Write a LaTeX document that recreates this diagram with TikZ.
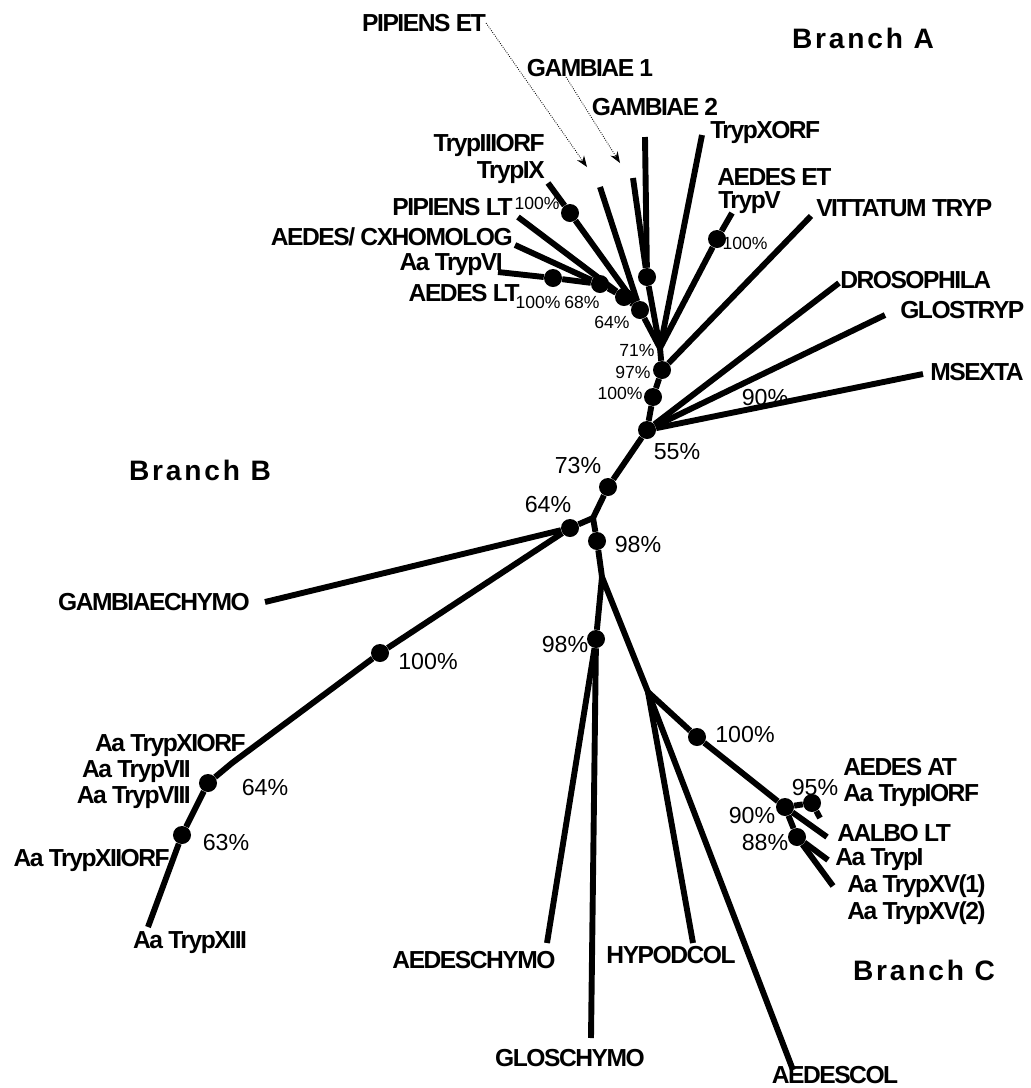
\documentclass[tikz,border=0pt]{standalone}
\usepackage{fontspec}
\setmainfont{Liberation Sans}
\newfontfamily\leaffont[LetterSpace=-6]{Liberation Sans}
\newfontfamily\branchfont[LetterSpace=10]{Liberation Sans}
\usetikzlibrary{arrows.meta}

\begin{document}
\begin{tikzpicture}[x=0.025cm, y=-0.025cm,
  br/.style={line width=4.2pt},
  dot/.style={circle, fill, inner sep=0pt, minimum size=0.45cm},
  leaf/.style={inner sep=0pt, font={\leaffont\bfseries\fontsize{17.5}{19}\selectfont}},
  pct/.style={inner sep=0pt, font={\fontsize{16.5}{18}\selectfont}},
  spct/.style={inner sep=0pt, font={\fontsize{12.5}{14}\selectfont}},
  brlab/.style={inner sep=0pt, font={\branchfont\bfseries\fontsize{20}{22}\selectfont}},
  pointer/.style={densely dotted, line width=0.6pt, -{Stealth[length=8pt,width=6pt]}}]
\useasboundingbox (0,0) rectangle (1031,1088);

% inner nodes
\coordinate (j71) at (660,348);
\node[dot] (n97) at (662,370) {};
\node[dot] (n100a) at (653,397) {};
\node[dot] (n55) at (647,430) {};
\node[dot] (n73) at (608,487) {};
\coordinate (root) at (593,518);
\node[dot] (nB) at (570,528) {};
\node[dot] (n98a) at (597,541) {};
\coordinate (sC) at (602,577);
\node[dot] (n98b) at (596,639) {};
\coordinate (sD) at (648,692);
\node[dot] (n100c) at (697,737) {};
\node[dot] (n90) at (785,807) {};
\node[dot] (n95) at (812,803) {};
\node[dot] (n88) at (797,837) {};
\node[dot] (nB100) at (380,653) {};
\coordinate (bend) at (232,763);
\node[dot] (nB64) at (208,783) {};
\node[dot] (nB63) at (182,835) {};
% branch A group
\node[dot] (a1) at (640,310) {};
\node[dot] (a2) at (624,297) {};
\node[dot] (a3) at (600,284) {};
\node[dot] (a4) at (553,278) {};
\node[dot] (a5) at (570,213) {};
\node[dot] (gam) at (647,277) {};
\node[dot] (aet) at (717,239) {};

% leaf ends
\coordinate (lTrypIX) at (548,183);
\coordinate (lPipLT) at (518,217);
\coordinate (lCxHom) at (515,245);
\coordinate (lTrypVI) at (498,272);
\coordinate (lPipET) at (600,187);
\coordinate (lGam1) at (633,178);
\coordinate (lGam2) at (645,137);
\coordinate (lXORF) at (702,135);
\coordinate (lAedET) at (732,213);
\coordinate (lVitt) at (811,216);
\coordinate (lDros) at (839,283);
\coordinate (lGlos) at (885,315);
\coordinate (lMsex) at (923,374);
\coordinate (lGamCh) at (265,602);
\coordinate (lXIII) at (148,927);
\coordinate (lAedCh) at (547,943);
\coordinate (lGlosCh) at (591,1038);
\coordinate (lHypo) at (693,943);
\coordinate (lAedCol) at (793,1070);
\coordinate (lIORF) at (820,818);
\coordinate (lAalbo) at (827,837);
\coordinate (lTrypI) at (828,860);
\coordinate (lXV) at (833,886);

% branches
\draw[br] (lTrypIX) -- (a5) -- (a1);
\draw[br] (lPipLT) -- (a2);
\draw[br] (lCxHom) -- (a3);
\draw[br] (lTrypVI) -- (a4) -- (a3) -- (a2) -- (a1) -- (j71);
\draw[br] (lPipET) -- (a1);
\draw[br] (lGam1) -- (gam);
\draw[br] (lGam2) -- (gam) -- (j71);
\draw[br] (lXORF) -- (j71);
\draw[br] (lAedET) -- (aet) -- (j71);
\draw[br] (j71) -- (n97) -- (n100a) -- (n55) -- (n73) -- (root);
\draw[br] (n97) -- (lVitt);
\draw[br] (n55) -- (lDros);
\draw[br] (n55) -- (lGlos);
\draw[br] (n55) -- (lMsex);
\draw[br] (root) -- (nB) -- (lGamCh);
\draw[br] (nB) -- (nB100) -- (bend) -- (nB64) -- (nB63) -- (lXIII);
\draw[br] (root) -- (n98a) -- (sC) -- (n98b);
\draw[br] (n98b) -- (lAedCh);
\draw[br] (n98b) -- (lGlosCh);
\draw[br] (sC) -- (sD) -- (lHypo);
\draw[br] (sD) -- (lAedCol);
\draw[br] (sD) -- (n100c) -- (n90) -- (n95) -- (lIORF);
\draw[br] (n90) -- (lAalbo);
\draw[br] (n90) -- (n88) -- (lTrypI);
\draw[br] (n88) -- (lXV);

% leaf labels
\node[leaf] (tPipET) at (424,23) {PIPIENS ET};
\node[leaf] (tGam1) at (590,68) {GAMBIAE 1};
\node[leaf] (tGam2) at (655,107) {GAMBIAE 2};
\node[leaf, anchor=east] (tIIIORF) at (545,145) {TrypIIIORF};
\node[leaf, anchor=east] (tIX) at (545,173) {TrypIX};
\node[leaf, anchor=east] (tPipLT) at (513,207) {PIPIENS LT};
\node[leaf, anchor=east] (tCxHom) at (513,237) {AEDES/ CXHOMOLOG};
\node[leaf, anchor=east] (tVI) at (503,265) {Aa TrypVI};
\node[leaf, anchor=east] (tAedLT) at (520,293) {AEDES LT};
\node[leaf, anchor=west] (tXORF) at (710,132) {TrypXORF};
\node[leaf, anchor=west] (tAedET) at (717,177) {AEDES ET};
\node[leaf, anchor=west] (tV) at (718,203) {TrypV};
\node[leaf, anchor=west] (tVitt) at (816,208) {VITTATUM TRYP};
\node[leaf, anchor=west] (tDros) at (840,280) {DROSOPHILA};
\node[leaf, anchor=west] (tGlos) at (900,310) {GLOSTRYP};
\node[leaf, anchor=west] (tMsex) at (930,372) {MSEXTA};
\node[leaf, anchor=east] (tGamCh) at (250,602) {GAMBIAECHYMO};
\node[leaf, anchor=east] (tXIORF) at (246,745) {Aa TrypXIORF};
\node[leaf, anchor=east] (tVII) at (191,772) {Aa TrypVII};
\node[leaf, anchor=east] (tVIII) at (191,798) {Aa TrypVIII};
\node[leaf, anchor=east] (tXIIORF) at (170,860) {Aa TrypXIIORF};
\node[leaf] (tXIII) at (190,943) {Aa TrypXIII};
\node[leaf] (tAedCh) at (474,960) {AEDESCHYMO};
\node[leaf] (tGlosCh) at (570,1058) {GLOSCHYMO};
\node[leaf] (tHypo) at (671,955) {HYPODCOL};
\node[leaf] (tAedCol) at (835,1075) {AEDESCOL};
\node[leaf, anchor=west] (tAedAT) at (843,767) {AEDES AT};
\node[leaf, anchor=west] (tIORF) at (843,795) {Aa TrypIORF};
\node[leaf, anchor=west] (tAalbo) at (837,833) {AALBO LT};
\node[leaf, anchor=west] (tTrypI) at (835,860) {Aa TrypI};
\node[leaf, anchor=west] (tXV1) at (847,886) {Aa TrypXV(1)};
\node[leaf, anchor=west] (tXV2) at (847,913) {Aa TrypXV(2)};

% branch names
\node[brlab] (brA) at (863,38) {Branch A};
\node[brlab] (brB) at (200,470) {Branch B};
\node[brlab] (brC) at (924,970) {Branch C};

% bootstrap values
\node[spct] (p1) at (537,203) {100\%};
\node[spct] (p2) at (538,302) {100\%};
\node[spct] (p3) at (582,302) {68\%};
\node[spct] (p4) at (612,322) {64\%};
\node[spct] (p5) at (637,350) {71\%};
\node[spct] (p6) at (633,372) {97\%};
\node[spct] (p7) at (620,393) {100\%};
\node[spct] (p8) at (745,243) {100\%};
\node[pct] (p9) at (765,398) {90\%};
\node[pct] (p10) at (677,452) {55\%};
\node[pct] (p11) at (578,466) {73\%};
\node[pct] (p12) at (548,505) {64\%};
\node[pct] (p13) at (638,545) {98\%};
\node[pct] (p14) at (565,645) {98\%};
\node[pct] (p15) at (428,662) {100\%};
\node[pct] (p16) at (745,735) {100\%};
\node[pct] (p17) at (265,788) {64\%};
\node[pct] (p18) at (226,843) {63\%};
\node[pct] (p19) at (815,788) {95\%};
\node[pct] (p20) at (752,815) {90\%};
\node[pct] (p21) at (765,842) {88\%};

% pointers
\coordinate (tipPipET) at (587,167);
\coordinate (tipGam1) at (620,163);
\draw[pointer] (tPipET.east) -- (tipPipET);
\draw[pointer] ([xshift=-0.6cm]tGam1.south) -- (tipGam1);
\end{tikzpicture}
\end{document}
